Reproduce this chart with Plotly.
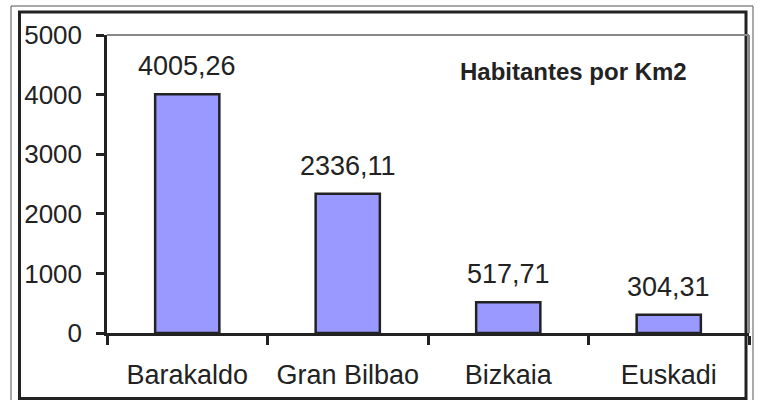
import plotly.graph_objects as go

categories = ["Barakaldo", "Gran Bilbao", "Bizkaia", "Euskadi"]
values = [4005.26, 2336.11, 517.71, 304.31]
y_ticks = [0, 1000, 2000, 3000, 4000, 5000]
title_text = "Habitantes por Km2"

W, H = 758, 400
L, R, T, B = 107, 9, 35, 67
PW, PH = W - L - R, H - T - B

def px(x):
    return (x - L) / PW

def py(y):
    return (H - B - y) / PH

FONT = "Liberation Sans, Arial, sans-serif"

fig = go.Figure()
fig.add_trace(go.Bar(
    x=categories, y=values, width=0.4,
    marker=dict(color="#9999FF", line=dict(color="#222222", width=2.5)),
    hoverinfo="skip",
))

annotations = []
for c, v in zip(categories, values):
    annotations.append(dict(
        x=c, y=v, xref="x", yref="y", text=f"{v:.2f}".replace(".", ","),
        showarrow=False, yanchor="bottom", yshift=11,
        font=dict(family=FONT, size=27, color="#222222"),
    ))
annotations.append(dict(
    x=px(573), y=py(71), xref="paper", yref="paper", text=f"<b>{title_text}</b>",
    showarrow=False, xanchor="center", yanchor="middle",
    font=dict(family=FONT, size=24, color="#222222"),
))

shapes = [
    # outer thin frame
    dict(type="rect", xref="paper", yref="paper", x0=px(11), x1=px(753), y0=py(403), y1=py(6),
         line=dict(color="#555555", width=1)),
    # inner thick frame
    dict(type="rect", xref="paper", yref="paper", x0=px(19.5), x1=px(746), y0=py(398.5), y1=py(12),
         line=dict(color="#222222", width=3)),
    # plot area top and right gray border
    dict(type="line", xref="paper", yref="paper", x0=0, x1=1, y0=1, y1=1,
         line=dict(color="#888888", width=2)),
    dict(type="line", xref="paper", yref="paper", x0=1, x1=1, y0=0, y1=1,
         line=dict(color="#888888", width=2)),
]

fig.update_layout(
    width=W, height=H,
    margin=dict(l=L, r=R, t=T, b=B),
    paper_bgcolor="white", plot_bgcolor="white",
    showlegend=False,
    annotations=annotations,
    shapes=shapes,
    font=dict(family=FONT, size=26, color="#222222"),
)
fig.update_xaxes(
    showline=True, linecolor="#222222", linewidth=2.5,
    ticks="outside", tickson="boundaries", ticklen=9, tickwidth=2.5, tickcolor="#222222",
    ticklabelstandoff=16,
    tickfont=dict(family=FONT, size=27, color="#222222"),
    showgrid=False, zeroline=False,
)
fig.update_yaxes(
    range=[0, 5000], tickvals=y_ticks, ticktext=[str(t) for t in y_ticks],
    showline=True, linecolor="#222222", linewidth=2.5,
    ticks="outside", ticklen=8, tickwidth=2.5, tickcolor="#222222",
    ticklabelstandoff=9,
    tickfont=dict(family=FONT, size=26, color="#222222"),
    showgrid=False, zeroline=False,
)

fig.write_html(
    "out.html",
    config={"displayModeBar": False},
    post_script="document.body.style.margin='0';document.body.style.overflow='hidden';",
)
